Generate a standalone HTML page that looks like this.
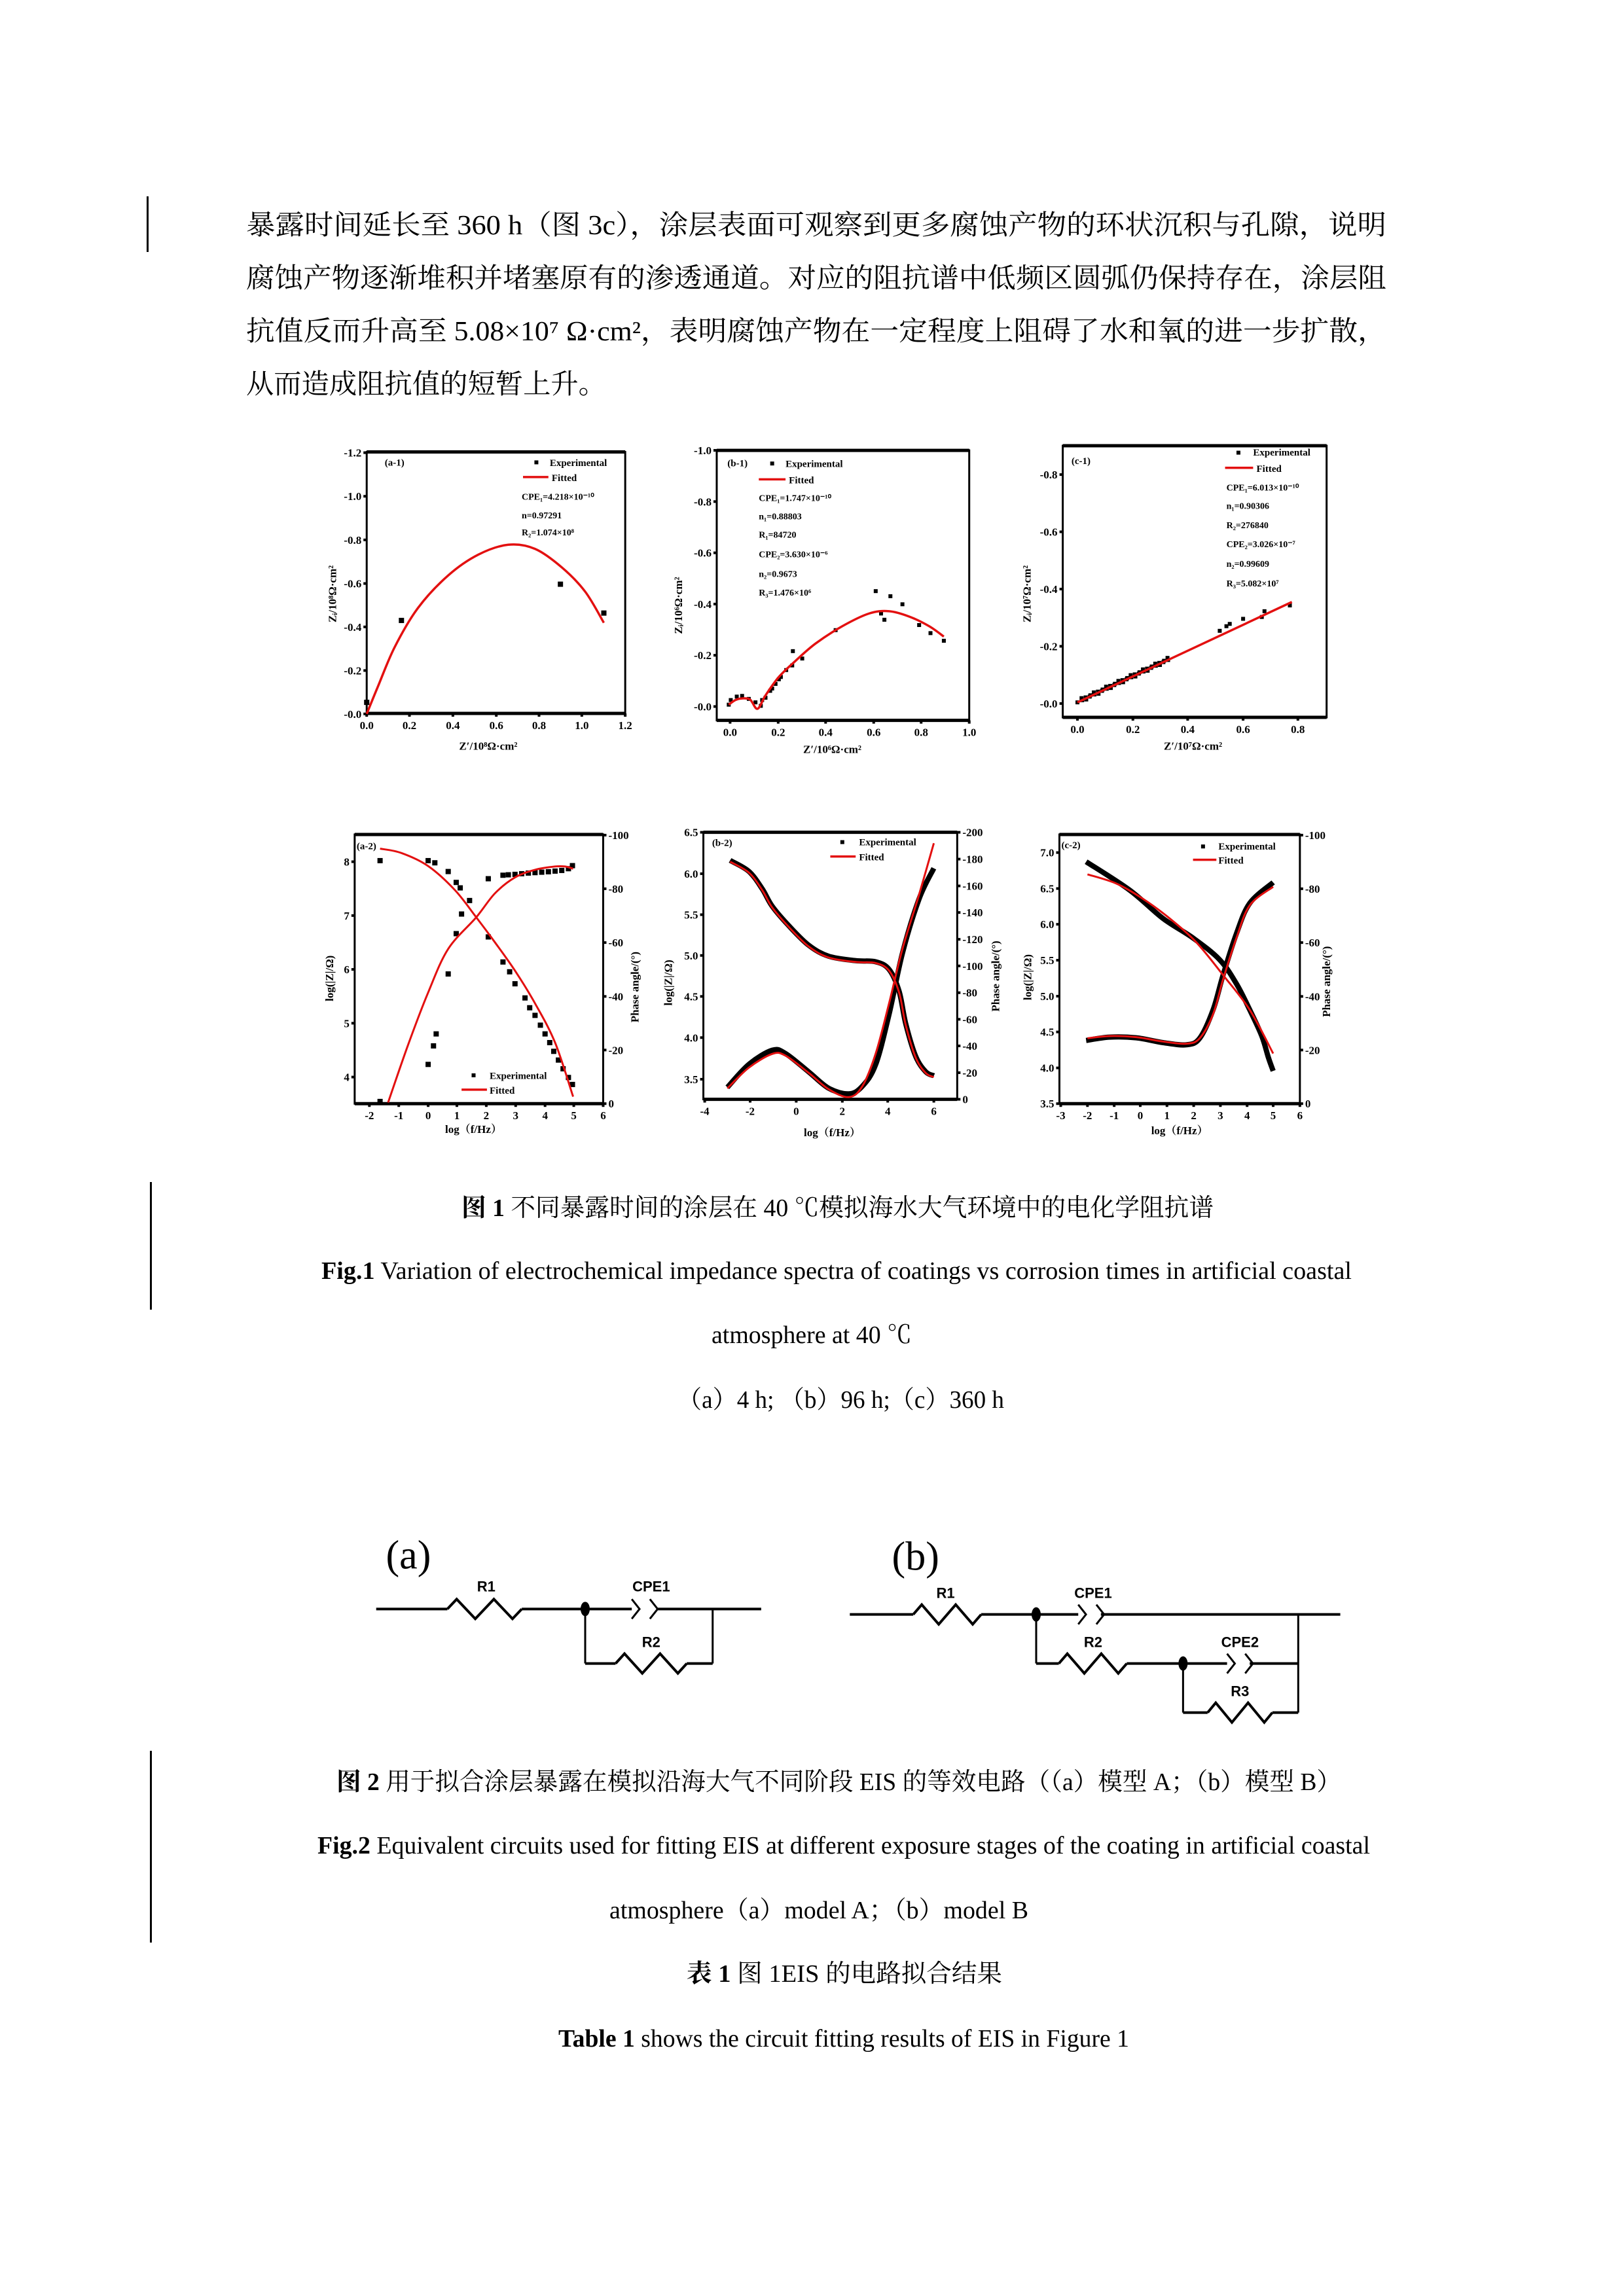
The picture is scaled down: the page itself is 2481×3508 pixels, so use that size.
<!DOCTYPE html>
<html><head><meta charset="utf-8"><style>
html,body{margin:0;padding:0;background:#fff;}
svg{display:block;}
</style></head><body>
<svg id="s" xmlns="http://www.w3.org/2000/svg" width="2481" height="3508" viewBox="0 0 2481 3508">
<rect width="2481" height="3508" fill="#fff"/>
</svg>
<script>
const S=document.getElementById('s');const NS='http://www.w3.org/2000/svg';
function el(t,a,txt,par){const e=document.createElementNS(NS,t);for(const k in a)e.setAttribute(k,a[k]);if(txt!==undefined)e.textContent=txt;(par||S).appendChild(e);return e;}
const SER='"Liberation Serif","Noto Serif CJK SC","Noto Sans CJK SC",serif';
const SAN='"Liberation Sans","Noto Sans CJK SC",sans-serif';
function T(x,y,s,fs,o){o=o||{};const a={x:x,y:y,'font-size':fs,'font-family':o.ff||SER,fill:'#000'};
 if(o.anchor)a['text-anchor']=o.anchor;if(o.bold)a['font-weight']='bold';if(o.len){a.textLength=o.len;a.lengthAdjust='spacingAndGlyphs';}
 if(o.rot)a.transform='rotate(-90 '+x+' '+y+')';return el('text',a,s);}
function TB(x,y,b,r,fs,len){const t=el('text',{x:x,y:y,'font-size':fs,'font-family':SER,fill:'#000',textLength:len,lengthAdjust:'spacingAndGlyphs'});
 el('tspan',{'font-weight':'bold'},b,t);el('tspan',{},r,t);return t;}
function Z2(X,Y){return[450+1.0205*X,650+0.3526*Y];}
function Z3(X,Y){return[450+1.0205*X,1250+0.333*Y];}
function Z4(X,Y){return[550+0.9885*X,2320+0.3333*Y];}
function smooth(P){let d='M'+P[0][0]+' '+P[0][1];for(let i=0;i<P.length-1;i++){const p0=P[i-1]||P[i],p1=P[i],p2=P[i+1],p3=P[i+2]||P[i+1];
 const c1=[p1[0]+(p2[0]-p0[0])/6,p1[1]+(p2[1]-p0[1])/6],c2=[p2[0]-(p3[0]-p1[0])/6,p2[1]-(p3[1]-p1[1])/6];
 d+=' C'+c1[0]+' '+c1[1]+' '+c2[0]+' '+c2[1]+' '+p2[0]+' '+p2[1];}return d;}
function curve(m,pts,col,w){el('path',{d:smooth(pts.map(p=>m(p[0],p[1]))),fill:'none',stroke:col,'stroke-width':w,'stroke-linejoin':'round'});}
function sq(m,X,Y,s){const p=m(X,Y);s=s||7;el('rect',{x:p[0]-s/2,y:p[1]-s/2,width:s,height:s,fill:'#000'});}
function box(m,X1,Y1,X2,Y2){const a=m(X1,Y1),b=m(X2,Y2);el('rect',{x:a[0],y:a[1],width:b[0]-a[0],height:b[1]-a[1],fill:'none',stroke:'#000','stroke-width':3});
 el('line',{x1:a[0],y1:a[1],x2:b[0],y2:a[1],stroke:'#000','stroke-width':5});el('line',{x1:a[0],y1:b[1],x2:b[0],y2:b[1],stroke:'#000','stroke-width':5});}
function yt(m,X,Ys,labels,side){Ys.forEach((Y,i)=>{const p=m(X,Y);const d=side>0?1:-1;el('line',{x1:p[0],y1:p[1],x2:p[0]+5*d,y2:p[1],stroke:'#000','stroke-width':4});
 T(p[0]+8*d,p[1]+6,labels[i],17,{anchor:side>0?'start':'end',bold:true});});}
function xt(m,Y,Xs,labels){Xs.forEach((X,i)=>{const p=m(X,Y);el('line',{x1:p[0],y1:p[1],x2:p[0],y2:p[1]+5,stroke:'#000','stroke-width':4});
 T(p[0],p[1]+24,labels[i],17,{anchor:'middle',bold:true});});}
function lg(m,X,Y,s,sqr,lineX1,lineX2){const p=m(X,Y);if(sqr){sq(m,sqr[0],sqr[1],6);}else{const a=m(lineX1,Y-8),b=m(lineX2,Y-8);el('line',{x1:a[0],y1:p[1]-4,x2:b[0],y2:p[1]-4,stroke:'#e31010','stroke-width':3.5});}
 T(p[0],p[1]+2,s,15,{bold:true});}

// ---------- body text ----------
el('rect',{x:224,y:300,width:3,height:85,fill:'#000'});
const L=[['暴露时间延长至 360 h（图 3c），涂层表面可观察到更多腐蚀产物的环状沉积与孔隙，说明',358],
['腐蚀产物逐渐堆积并堵塞原有的渗透通道。对应的阻抗谱中低频区圆弧仍保持存在，涂层阻',439],
['抗值反而升高至  5.08×10⁷ Ω·cm²，表明腐蚀产物在一定程度上阻碍了水和氧的进一步扩散，',520],
['从而造成阻抗值的短暂上升。',601]];
L.forEach((l,i)=>T(376,l[1],l[0],42,{len:i==3?550:1742}));

// ---------- a-1 ----------
box(Z2,108,115,495,1248);
yt(Z2,108,[118,307,496,685,873,1062,1250],['-1.2','-1.0','-0.8','-0.6','-0.4','-0.2','-0.0'],-1);
xt(Z2,1248,[108,172,237,302,366,430,495],['0.0','0.2','0.4','0.6','0.8','1.0','1.2']);
curve(Z2,[[108,1250],[125,1130],[150,960],[185,790],[230,650],[275,560],[320,517],[360,535],[400,615],[435,720],[463,855]],'#e31010',3.5);
[[160,845],[398,688],[463,813],[108,1200]].forEach(p=>sq(Z2,p[0],p[1],8));
{let p=Z2(135,175);T(p[0],p[1],'(a-1)',15,{bold:true});}
lg(Z2,382,170,'Experimental',[362,160]);lg(Z2,385,235,'Fitted',null,342,380);
[['CPE₁=4.218×10⁻¹⁰',305],['n=0.97291',385],['R₂=1.074×10⁸',460]].forEach(t=>{const p=Z2(340,t[1]);T(p[0],p[1]+6,t[0],14,{bold:true});});
{let p=Z2(290,1405);T(p[0],p[1],'Z′/10⁸Ω·cm²',17,{anchor:'middle',bold:true});p=Z2(62,730);T(p[0],p[1],'Zᵢ/10⁸Ω·cm²',17,{anchor:'middle',bold:true,rot:1});}

// ---------- b-1 ----------
box(Z2,632,108,1010,1278);
yt(Z2,632,[108,330,552,774,996,1218],['-1.0','-0.8','-0.6','-0.4','-0.2','-0.0'],-1);
xt(Z2,1278,[652,724,795,867,938,1010],['0.0','0.2','0.4','0.6','0.8','1.0']);
[[650,1210],[653,1190],[662,1175],[670,1172],[680,1185],[690,1200],[698,1215],[705,1180],[712,1150],[720,1120],[728,1090],[736,1060],[745,1040],[746,978],[760,1010],[810,887],[870,718],[892,740],[910,775],[878,815],[883,842],[935,865],[952,900],[972,933],[700,1190],[715,1140],[725,1100]].forEach(p=>sq(Z2,p[0],p[1],6));
curve(Z2,[[650,1210],[660,1190],[670,1183],[682,1188],[693,1228],[705,1170],[725,1090],[750,1020],[780,945],[820,870],[860,815],[890,805],[920,828],[950,870],[972,915]],'#e31010',3.5);
{let p=Z2(648,160);T(p[0],p[1]+6,'(b-1)',15,{bold:true});}
lg(Z2,735,175,'Experimental',[715,165]);lg(Z2,740,245,'Fitted',null,695,735);
[['CPE₁=1.747×10⁻¹⁰',310],['n₁=0.88803',390],['R₁=84720',470],['CPE₂=3.630×10⁻⁶',555],['n₂=0.9673',640],['R₃=1.476×10⁶',720]].forEach(t=>{const p=Z2(695,t[1]);T(p[0],p[1]+6,t[0],14,{bold:true});});
{let p=Z2(805,1420);T(p[0],p[1],'Z′/10⁶Ω·cm²',17,{anchor:'middle',bold:true});p=Z2(580,780);T(p[0],p[1],'Zᵢ/10⁶Ω·cm²',17,{anchor:'middle',bold:true,rot:1});}

// ---------- c-1 ----------
box(Z2,1150,88,1545,1265);
yt(Z2,1150,[213,461,709,957,1205],['-0.8','-0.6','-0.4','-0.2','-0.0'],-1);
xt(Z2,1265,[1172,1255,1337,1420,1502],['0.0','0.2','0.4','0.6','0.8']);
{const pts=[];for(let i=0;i<45;i++){const t=i/44*0.42;pts.push([1172+t*321+((i%2))*4,1200-t*435-((i%3))*5]);}
 [[1385,890],[1395,870],[1400,860],[1420,838],[1448,830],[1452,805],[1490,780]].forEach(p=>pts.push(p));pts.forEach(p=>sq(Z2,p[0],p[1],6));}
curve(Z2,[[1172,1200],[1493,765]],'#e31010',3.5);
{let p=Z2(1163,150);T(p[0],p[1]+6,'(c-1)',15,{bold:true});}
lg(Z2,1435,125,'Experimental',[1413,118]);lg(Z2,1440,195,'Fitted',null,1393,1435);
[['CPE₁=6.013×10⁻¹⁰',265],['n₁=0.90306',345],['R₂=276840',428],['CPE₂=3.026×10⁻⁷',510],['n₂=0.99609',595],['R₃=5.082×10⁷',680]].forEach(t=>{const p=Z2(1395,t[1]);T(p[0],p[1]+6,t[0],14,{bold:true});});
{let p=Z2(1345,1405);T(p[0],p[1],'Z′/10⁷Ω·cm²',17,{anchor:'middle',bold:true});p=Z2(1102,730);T(p[0],p[1],'Zᵢ/10⁷Ω·cm²',17,{anchor:'middle',bold:true,rot:1});}

// ---------- a-2 ----------
box(Z3,90,75,462,1310);
yt(Z3,90,[200,447,694,941,1188],['8','7','6','5','4'],-1);
yt(Z3,462,[78,324,571,818,1064,1310],['-100','-80','-60','-40','-20','0'],1);
xt(Z3,1310,[112,156,200,243,287,331,375,418,462],['-2','-1','0','1','2','3','4','5','6']);
[[128,195],[200,195],[210,205],[230,245],[242,295],[248,320],[262,378],[250,440],[242,530],[230,715],[212,990],[208,1045],[200,1130],[128,1300],
 [290,545],[312,660],[322,705],[330,760],[345,825],[352,870],[360,905],[368,950],[375,990],[382,1030],[388,1070],[395,1110],[402,1150],[410,1190],[416,1222],
 [290,278],[312,262],[320,260],[330,258],[340,255],[350,252],[360,250],[370,248],[380,246],[390,243],[400,240],[410,232],[416,218]].forEach(p=>sq(Z3,p[0],p[1],8));
curve(Z3,[[128,140],[160,160],[200,220],[240,330],[272,455],[300,570],[330,700],[360,850],[390,1030],[417,1278]],'#e31010',3);
curve(Z3,[[140,1305],[170,1040],[200,800],[230,600],[272,455],[300,345],[330,272],[360,237],[390,222],[405,222],[417,232]],'#e31010',3);
{let p=Z3(93,125);T(p[0],p[1]+6,'(a-2)',15,{bold:true});}
lg(Z3,292,1190,'Experimental',[268,1180]);lg(Z3,292,1258,'Fitted',null,250,288);
{let p=Z3(268,1445);T(p[0],p[1],'log（f/Hz）',17,{anchor:'middle',bold:true});p=Z3(58,735);T(p[0],p[1],'log(|Z|/Ω)',17,{anchor:'middle',bold:true,rot:1});p=Z3(515,775);T(p[0],p[1],'Phase angle/(°)',17,{anchor:'middle',bold:true,rot:1});}

// ---------- b-2 ----------
box(Z3,612,65,992,1290);
yt(Z3,612,[65,255,443,630,818,1007,1198],['6.5','6.0','5.5','5.0','4.5','4.0','3.5'],-1);
yt(Z3,992,[65,188,311,433,556,678,801,923,1045,1168,1290],['-200','-180','-160','-140','-120','-100','-80','-60','-40','-20','0'],1);
xt(Z3,1290,[614,682,751,820,888,957],['-4','-2','0','2','4','6']);
const bz=[[652,200],[680,250],[700,330],[715,410],[740,500],[770,590],[800,640],[840,660],[870,665],[890,700],[905,800],[915,950],[930,1100],[945,1170],[957,1188]];
const bp=[[648,1235],[680,1130],[715,1065],[735,1080],[770,1165],[800,1240],[830,1265],[850,1230],[870,1130],[890,900],[910,620],[935,370],[957,230]];
curve(Z3,bz.map(p=>[p[0],p[1]-6]),'#000',8);curve(Z3,bp,'#000',8);
curve(Z3,bz,'#e31010',3);
curve(Z3,[[648,1240],[680,1145],[715,1082],[735,1090],[770,1170],[800,1245],[830,1280],[850,1230],[870,1080],[890,850],[910,600],[935,350],[957,115]],'#e31010',3);
{let p=Z3(625,110);T(p[0],p[1]+6,'(b-2)',15,{bold:true});}
lg(Z3,845,118,'Experimental',[820,110]);lg(Z3,845,188,'Fitted',null,802,840);
{let p=Z3(805,1460);T(p[0],p[1],'log（f/Hz）',17,{anchor:'middle',bold:true});p=Z3(565,755);T(p[0],p[1],'log(|Z|/Ω)',17,{anchor:'middle',bold:true,rot:1});p=Z3(1055,725);T(p[0],p[1],'Phase angle/(°)',17,{anchor:'middle',bold:true,rot:1});}

// ---------- c-2 ----------
box(Z3,1145,75,1505,1310);
yt(Z3,1145,[158,323,487,652,817,981,1146,1310],['7.0','6.5','6.0','5.5','5.0','4.5','4.0','3.5'],-1);
yt(Z3,1505,[78,324,571,818,1064,1310],['-100','-80','-60','-40','-20','0'],1);
xt(Z3,1310,[1147,1187,1227,1266,1306,1346,1386,1426,1465,1505],['-3','-2','-1','0','1','2','3','4','5','6']);
curve(Z3,[[1185,200],[1250,330],[1300,460],[1345,550],[1385,650],[1410,760],[1430,880],[1448,1000],[1458,1100],[1465,1160]],'#000',8);
curve(Z3,[[1185,1020],[1220,1005],[1260,1008],[1300,1030],[1335,1040],[1355,1010],[1375,880],[1390,720],[1410,530],[1430,390],[1465,295]],'#000',8);
curve(Z3,[[1187,258],[1230,300],[1270,370],[1310,460],[1350,570],[1390,720],[1430,880],[1465,1080]],'#e31010',3);
curve(Z3,[[1187,1010],[1220,1000],[1260,1005],[1300,1025],[1335,1035],[1355,1010],[1375,900],[1390,740],[1410,550],[1430,400],[1465,315]],'#e31010',3);
{let p=Z3(1148,120);T(p[0],p[1]+6,'(c-2)',15,{bold:true});}
lg(Z3,1383,138,'Experimental',[1360,130]);lg(Z3,1383,203,'Fitted',null,1345,1380);
{let p=Z3(1325,1450);T(p[0],p[1],'log（f/Hz）',17,{anchor:'middle',bold:true});p=Z3(1103,730);T(p[0],p[1],'log(|Z|/Ω)',17,{anchor:'middle',bold:true,rot:1});p=Z3(1550,750);T(p[0],p[1],'Phase angle/(°)',17,{anchor:'middle',bold:true,rot:1});}

// ---------- caption 1 ----------
el('rect',{x:229,y:1806,width:3,height:195,fill:'#000'});
TB(705,1858,'图 1','  不同暴露时间的涂层在 40 ℃模拟海水大气环境中的电化学阻抗谱',38,1149);
TB(491,1954,'Fig.1',' Variation of electrochemical impedance spectra of coatings vs corrosion    times in artificial coastal',38,1574);
T(1087,2052,'atmosphere at 40 ℃',38,{len:306});
T(1035,2151,'（a）4 h; （b）96 h;（c）360 h',38,{len:499});

// ---------- circuits ----------
function zig(m,X1,X2,Y,amp,n){const P=[];P.push(m(X1,Y));const w=(X2-X1)/(n*2);for(let i=0;i<n*2;i++){P.push(m(X1+w*(i+0.5),Y+(i%2?amp:-amp)));}P.push(m(X2,Y));return P;}
function pl(P,w){el('polyline',{points:P.map(p=>p.join(',')).join(' '),fill:'none',stroke:'#000','stroke-width':w||4,'stroke-linejoin':'miter'});}
function ln(m,X1,Y1,X2,Y2,w){pl([m(X1,Y1),m(X2,Y2)],w);}
function cap(m,X,Y){const a=m(X,Y-45),b=m(X+12,Y),c=m(X,Y+45);pl([a,b,c],3);const d=m(X+28,Y-45),e=m(X+40,Y),f=m(X+28,Y+45);pl([d,e,f],3);}
function node(m,X,Y){const p=m(X,Y);el('ellipse',{cx:p[0],cy:p[1],rx:7,ry:11,fill:'#000'});}
function lab(m,X,Y,s){const p=m(X,Y);T(p[0],p[1],s,22,{anchor:'middle',ff:SAN,bold:true});}
{let p=Z4(40,230);T(p[0],p[1],'(a)',62);}
ln(Z4,25,415,135,415);pl(zig(Z4,135,250,415,45,2));ln(Z4,250,415,420,415);cap(Z4,420,415);ln(Z4,460,415,620,415);
node(Z4,348,415);ln(Z4,348,415,348,665,3);ln(Z4,545,415,545,665,3);
ln(Z4,348,665,395,665);pl(zig(Z4,395,505,665,45,2));ln(Z4,505,665,545,665);
lab(Z4,195,335,'R1');lab(Z4,450,335,'CPE1');lab(Z4,450,590,'R2');
{let p=Z4(822,235);T(p[0],p[1],'(b)',62);}
ln(Z4,757,440,855,440);pl(zig(Z4,855,960,440,45,2));ln(Z4,960,440,1110,440);cap(Z4,1110,440);ln(Z4,1145,440,1515,440);
node(Z4,1045,440);ln(Z4,1045,440,1045,665,3);ln(Z4,1450,440,1450,890,3);
ln(Z4,1045,665,1080,665);pl(zig(Z4,1080,1185,665,45,2));ln(Z4,1185,665,1340,665);cap(Z4,1340,665);ln(Z4,1375,665,1450,665);
node(Z4,1272,665);ln(Z4,1272,665,1272,890,3);ln(Z4,1272,890,1310,890);pl(zig(Z4,1310,1410,890,45,2));ln(Z4,1410,890,1450,890);
lab(Z4,905,365,'R1');lab(Z4,1133,365,'CPE1');lab(Z4,1133,590,'R2');lab(Z4,1360,590,'CPE2');lab(Z4,1360,815,'R3');

// ---------- caption 2 ----------
el('rect',{x:229,y:2675,width:3,height:293,fill:'#000'});
TB(514,2735,'图 2','  用于拟合涂层暴露在模拟沿海大气不同阶段 EIS 的等效电路（（a）模型 A；（b）模型 B）',38,1535);
TB(485,2832,'Fig.2',' Equivalent circuits used for fitting EIS at different exposure stages of the coating  in  artificial coastal',38,1608);
T(931,2931,'atmosphere（a）model A；（b）model B',38,{len:640});
TB(1049,3028,'表 1','  图 1EIS 的电路拟合结果',38,482);
TB(853,3127,'Table 1',' shows the circuit fitting results of EIS in Figure 1',38,872);
</script>
</body></html>
